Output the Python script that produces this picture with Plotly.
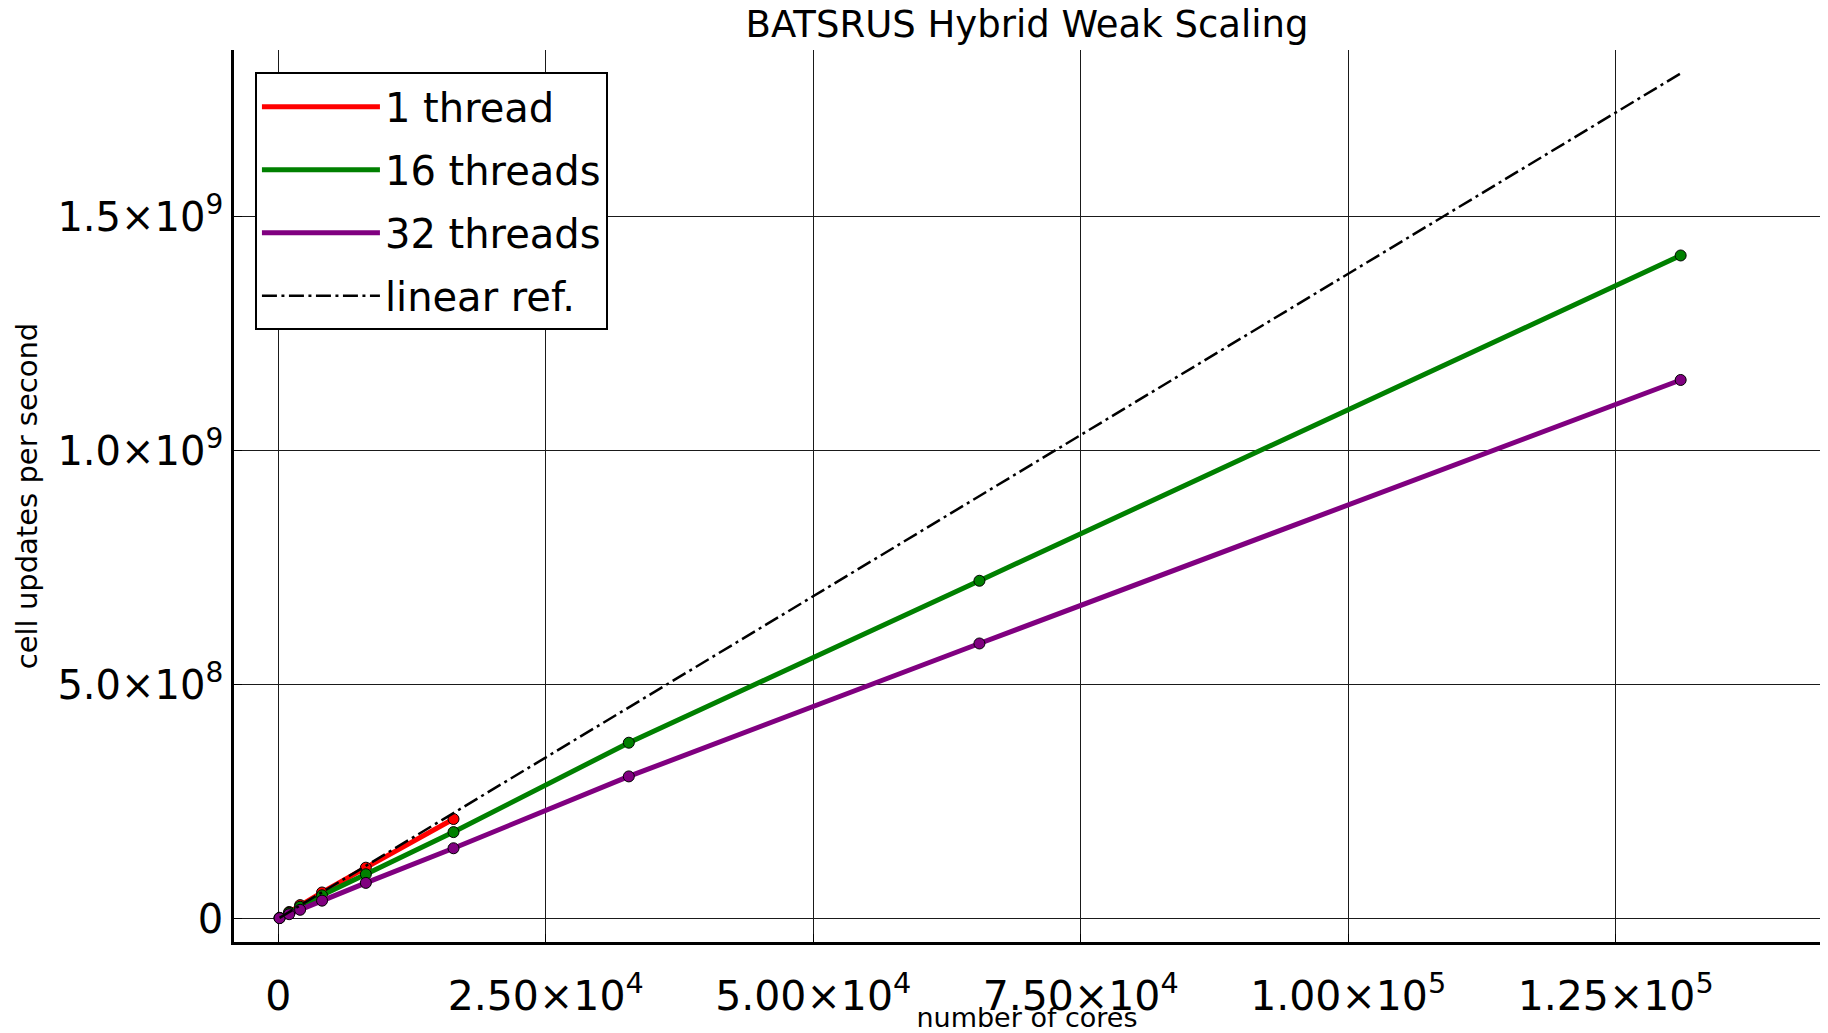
import plotly.graph_objects as go

# ---- data ----
cores_1 = [128, 1024, 2048, 4096, 8192, 16384]
rate_1 = [1.8e6, 1.43e7, 2.9e7, 5.6e7, 1.09e8, 2.13e8]

cores_16 = [128, 1024, 2048, 4096, 8192, 16384, 32768, 65536, 131072]
rate_16 = [1.6e6, 1.28e7, 2.55e7, 5.0e7, 9.5e7, 1.85e8, 3.76e8, 7.22e8, 1.417e9]

cores_32 = [128, 1024, 2048, 4096, 8192, 16384, 32768, 65536, 131072]
rate_32 = [1.2e6, 9.6e6, 1.9e7, 3.85e7, 7.65e7, 1.505e8, 3.04e8, 5.88e8, 1.151e9]

ref_cores = [128, 131072]
ref_rate = [1.76e6, 1.806e9]

x_tickvals = [0, 25000, 50000, 75000, 100000, 125000]
x_ticktext = ["0", "2.50×10<sup>4</sup>", "5.00×10<sup>4</sup>", "7.50×10<sup>4</sup>",
              "1.00×10<sup>5</sup>", "1.25×10<sup>5</sup>"]
y_tickvals = [0, 5e8, 1e9, 1.5e9]
y_ticktext = ["0", "5.0×10<sup>8</sup>", "1.0×10<sup>9</sup>", "1.5×10<sup>9</sup>"]

FONT = "DejaVu Sans"

series = [
    ("1 thread", cores_1, rate_1, "#ff0000"),
    ("16 threads", cores_16, rate_16, "#008000"),
    ("32 threads", cores_32, rate_32, "#800080"),
]

fig = go.Figure()
for name, xs, ys, col in series:
    fig.add_trace(go.Scatter(x=xs, y=ys, mode="lines", name=name, legendgroup=name,
                             line=dict(color=col, width=5)))
    fig.add_trace(go.Scatter(x=xs, y=ys, mode="markers", showlegend=False, legendgroup=name,
                             marker=dict(color=col, size=11, line=dict(color="black", width=1)),
                             hoverinfo="skip"))

fig.add_trace(go.Scatter(x=ref_cores, y=ref_rate, mode="lines", name="linear ref.",
                         legendgroup="ref",
                         line=dict(color="black", width=2.5, dash="15px,4.5px,3px,4.5px")))

fig.update_layout(
    width=1828, height=1033,
    margin=dict(l=234, r=8, t=50, b=91),
    paper_bgcolor="white", plot_bgcolor="white",
    font=dict(family=FONT, color="black"),
    title=dict(text="BATSRUS Hybrid Weak Scaling", font=dict(size=37, family=FONT),
               x=(234 + 1820) / 2 / 1828, xanchor="center",
               y=1 - 24 / 1033, yanchor="middle", yref="container"),
    showlegend=True,
    legend=dict(x=0.0132, y=0.975, xanchor="left", yanchor="top",
                bgcolor="white", bordercolor="black", borderwidth=2,
                font=dict(size=40, family=FONT), tracegroupgap=8,
                itemwidth=118),
)

fig.update_xaxes(
    range=[-4131, 144095], tickvals=x_tickvals, ticktext=x_ticktext,
    tickfont=dict(size=41, family=FONT), showgrid=True, gridcolor="#1a1a1a", gridwidth=1,
    zeroline=False, showline=True, linecolor="black", linewidth=2.5,
    ticks="inside", ticklen=8, tickcolor="black", automargin=False,
    ticklabelstandoff=16,
    title=dict(text="number of cores", font=dict(size=27, family=FONT), standoff=5),
)
fig.update_yaxes(
    range=[-4.98e7, 1.856e9], tickvals=y_tickvals, ticktext=y_ticktext,
    tickfont=dict(size=40, family=FONT), showgrid=True, gridcolor="#1a1a1a", gridwidth=1,
    zeroline=False, showline=True, linecolor="black", linewidth=2.5,
    ticks="inside", ticklen=8, tickcolor="black", automargin=False,
    title=dict(text="cell updates per second", font=dict(size=29, family=FONT), standoff=12),
)

fig.write_html("out.html", config={"displayModeBar": False},
               post_script="document.body.style.margin='0';")
